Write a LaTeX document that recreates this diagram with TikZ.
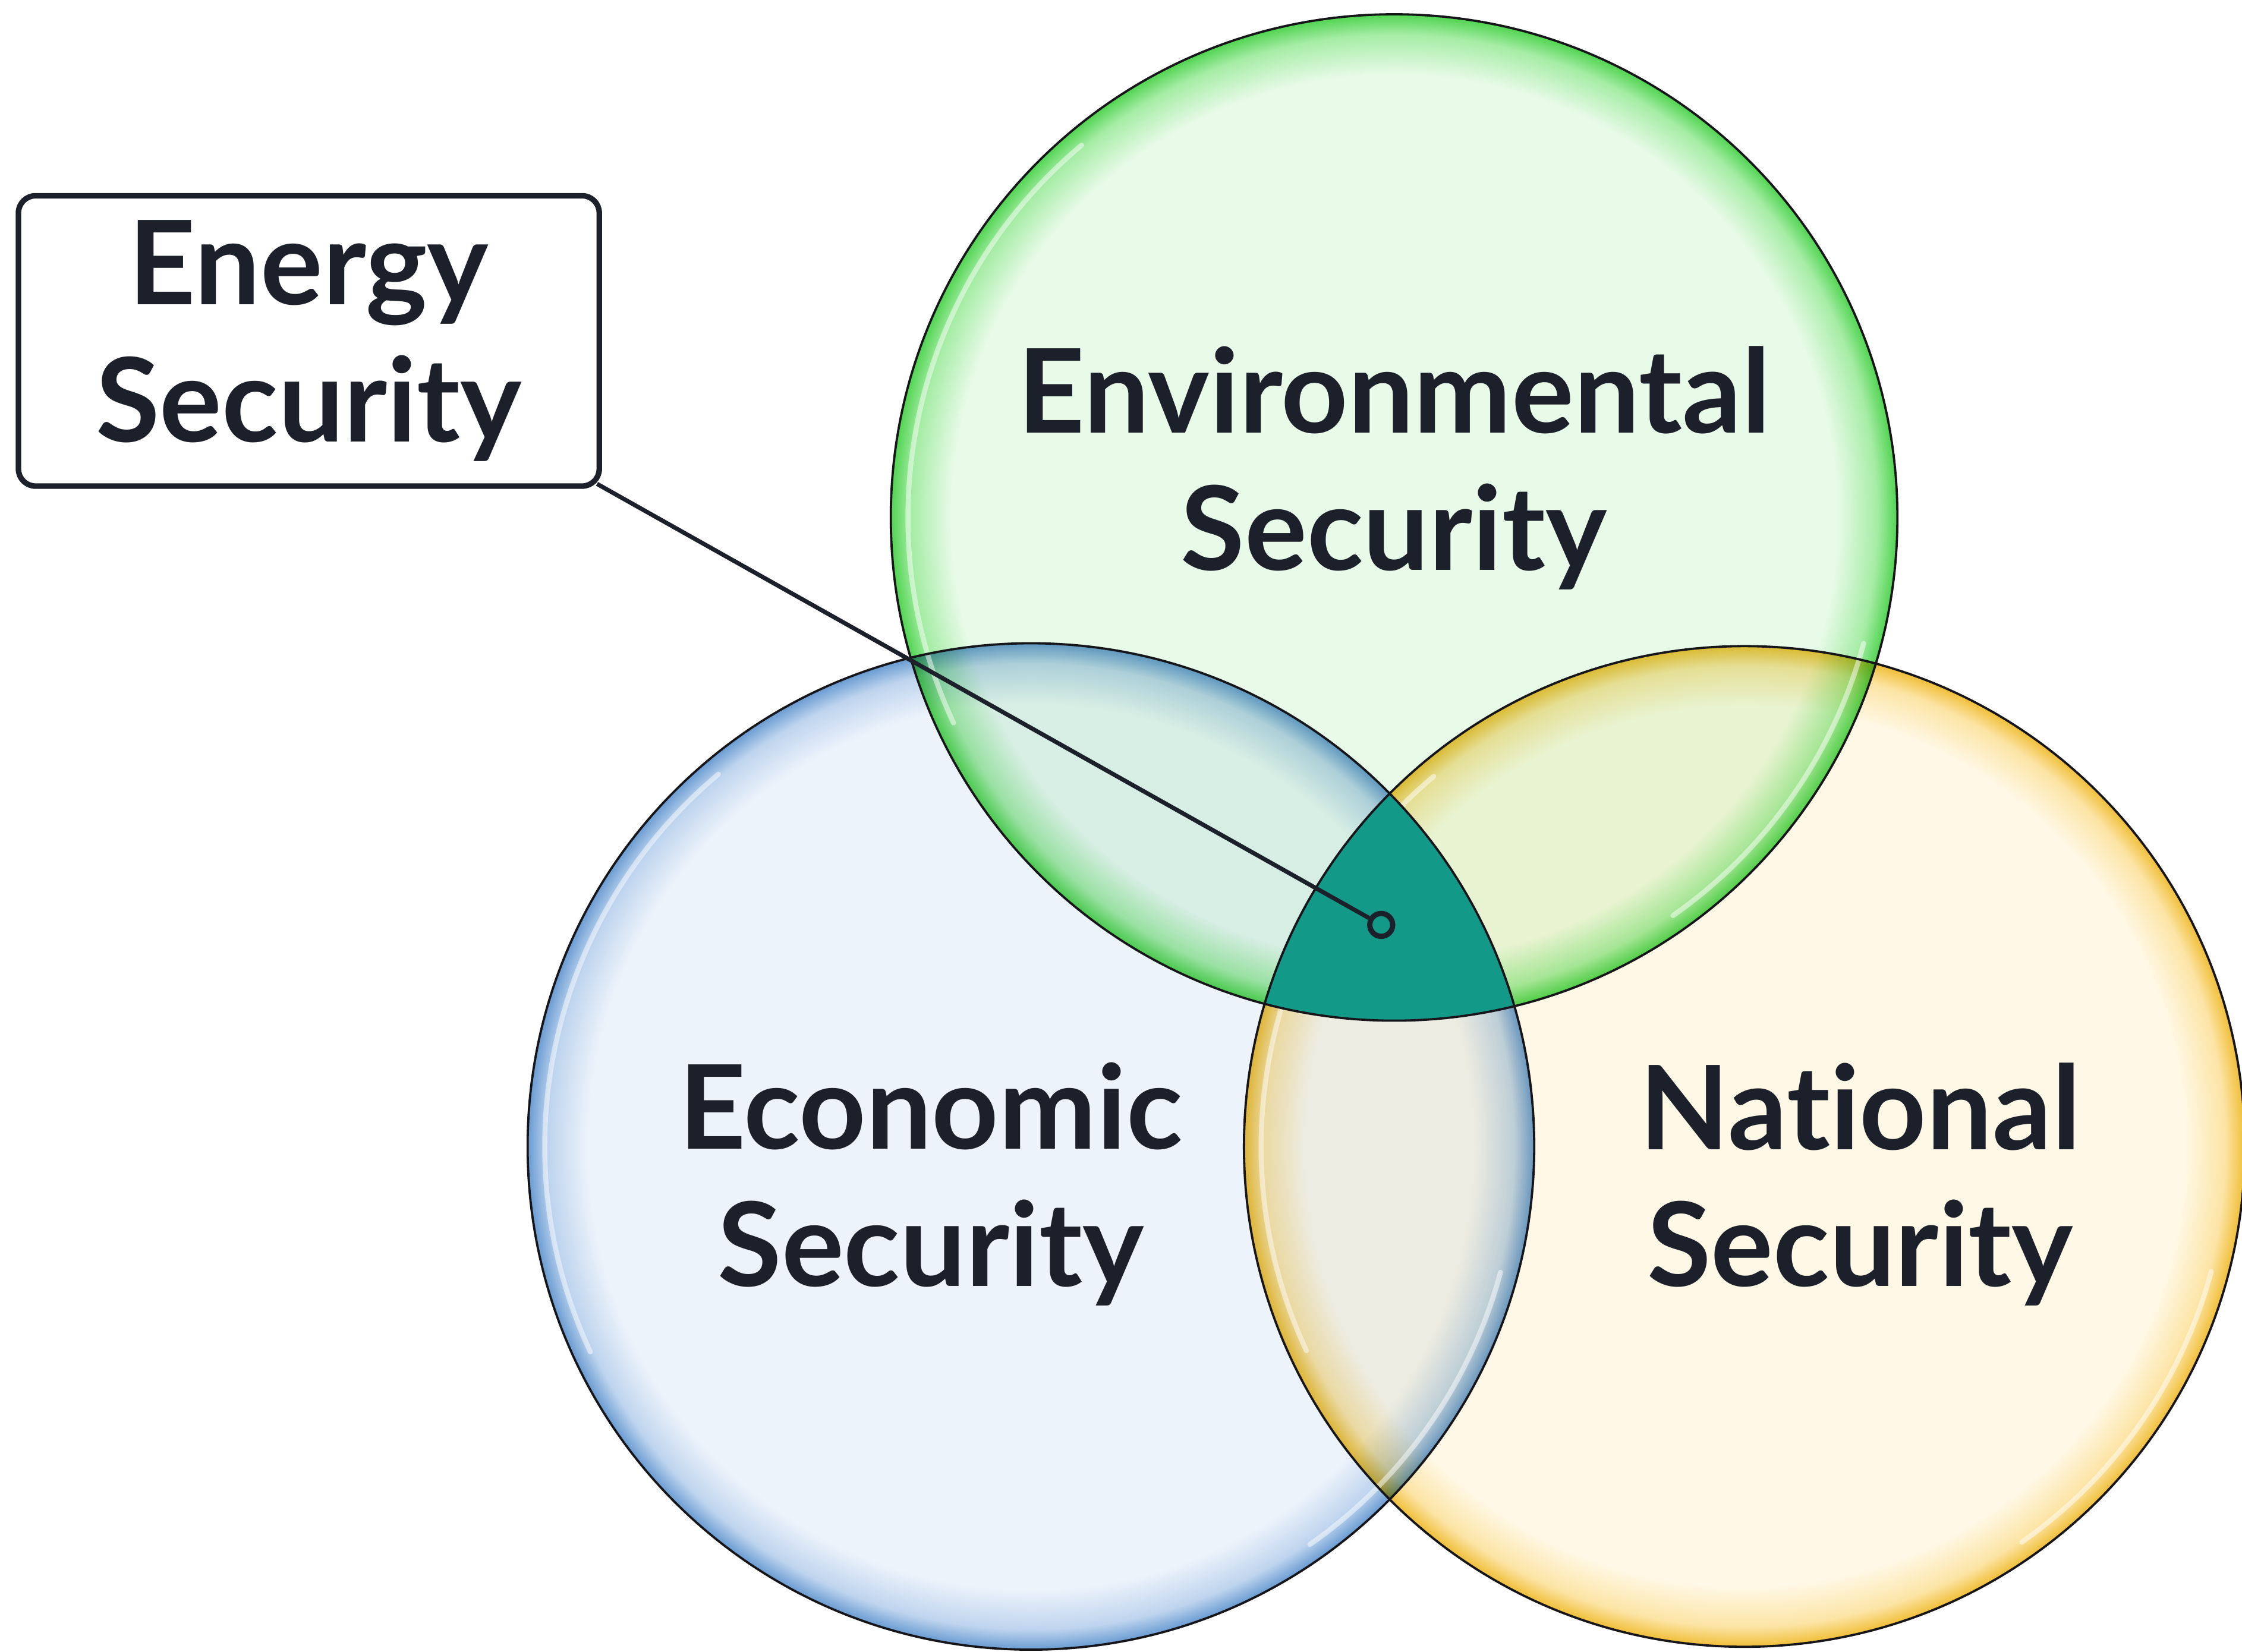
\documentclass[tikz,border=0pt]{standalone}
\usepackage{fontspec}
\setmainfont{Lato}[Ligatures=NoCommon]

\definecolor{ink}{RGB}{28,32,42}
\definecolor{rimdark}{RGB}{22,22,26}
\definecolor{coreteal}{RGB}{18,153,136}
\definecolor{envin}{RGB}{232,250,232}
\definecolor{envmid}{RGB}{165,236,165}
\definecolor{envrim}{RGB}{80,212,80}
\definecolor{ecoin}{RGB}{237,243,251}
\definecolor{ecomid}{RGB}{190,212,238}
\definecolor{ecorim}{RGB}{105,155,210}
\definecolor{natin}{RGB}{255,248,230}
\definecolor{natmid}{RGB}{252,228,165}
\definecolor{natrim}{RGB}{240,190,55}

\pgfdeclareradialshading{envbubble}{\pgfpointorigin}{color(0bp)=(envin); color(22bp)=(envin); color(24bp)=(envmid); color(25bp)=(envrim); color(50bp)=(envrim)}
\pgfdeclareradialshading{ecobubble}{\pgfpointorigin}{color(0bp)=(ecoin); color(22bp)=(ecoin); color(24bp)=(ecomid); color(25bp)=(ecorim); color(50bp)=(ecorim)}
\pgfdeclareradialshading{natbubble}{\pgfpointorigin}{color(0bp)=(natin); color(22bp)=(natin); color(24bp)=(natmid); color(25bp)=(natrim); color(50bp)=(natrim)}

\tikzset{
  circletext/.style={font=\bfseries\fontsize{23.2}{27.3}\selectfont, text=ink, align=center, inner sep=0pt},
  calloutbox/.style={circletext, draw=ink, line width=1.1pt, rounded corners=0.12cm, fill=white,
    minimum width=4.06cm, minimum height=2.03cm},
  hubring/.style={circle, draw=ink, line width=1.05pt, fill=coreteal, minimum size=0.16cm, inner sep=0pt},
  leader/.style={draw=ink, line width=0.85pt},
  rim/.style={draw=rimdark, line width=0.45pt},
  glint/.style={white, line width=0.035cm, opacity=0.5, line cap=round}
}

\begin{document}
\begin{tikzpicture}[x=0.01cm,y=0.01cm]
%\draw[gray,help lines] (0,0) grid[step=100] (1568,-1156);
\useasboundingbox (0,0) rectangle (1568,-1155.6);
\pgfmathsetmacro{\rad}{352}
\pgfmathsetmacro{\radn}{350}
\coordinate (envC) at (975,-362);
\coordinate (ecoC) at (721,-802);
\coordinate (natC) at (1220,-802);
\begin{scope}[blend group=multiply]
\shade[shading=ecobubble] (ecoC) circle[radius=\rad];
\shade[shading=natbubble] (natC) circle[radius=\radn];
\shade[shading=envbubble] (envC) circle[radius=\rad];
\end{scope}
\foreach \c/\rr in {envC/352,ecoC/352,natC/350}{
  \pgfmathsetmacro{\rg}{\rr-12}
  \draw[glint] (\c) ++(130:\rg) arc[start angle=130,end angle=205,radius=\rg];
  \draw[glint] (\c) ++(-55:\rg) arc[start angle=-55,end angle=-15,radius=\rg];
}
% middle part, all three
\begin{scope}
\clip (envC) circle[radius=\rad];
\clip (ecoC) circle[radius=\rad];
\fill[coreteal] (natC) circle[radius=\radn];
\end{scope}
\draw[rim] (ecoC) circle[radius=\rad] (natC) circle[radius=\radn] (envC) circle[radius=\rad];
\node[circletext] (env) at (975,-327.5) {Environmental\\Security};
\node[circletext] (eco) at (651,-828.5) {Economic\\Security};
\node[circletext] (nat) at (1301,-828.5) {National\\Security};
\node[calloutbox] (energy) at (216,-238.5) {Energy\\Security};
\node[hubring] (hub) at (966,-647) {};
\draw[leader] ([shift={(-3.5,3.5)}]energy.south east) -- (hub);
\end{tikzpicture}
\end{document}
